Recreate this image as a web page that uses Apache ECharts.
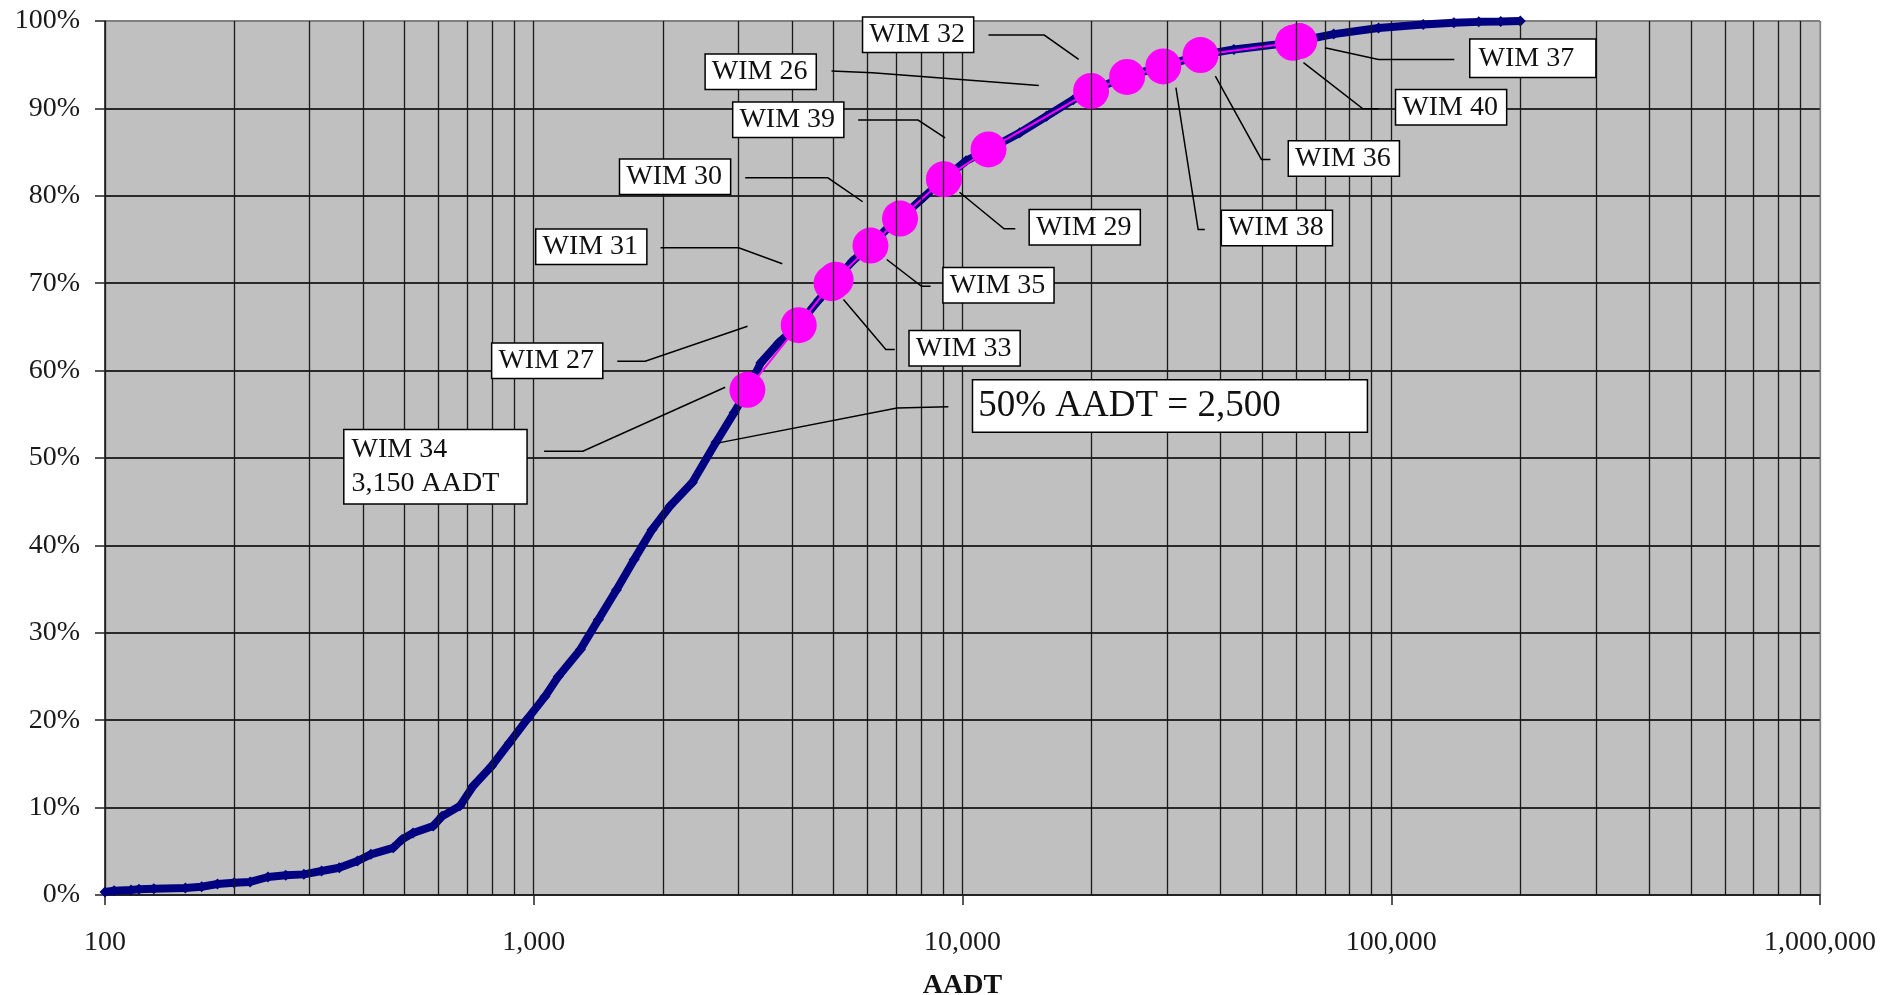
<!DOCTYPE html>
<html><head><meta charset="utf-8">
<script src="https://cdn.jsdelivr.net/npm/echarts@6/dist/echarts.min.js"></script>
<style>html,body{margin:0;padding:0;background:#fff}#c{width:1881px;height:995px}</style>
</head><body><div id="c"></div>
<script>
// ---- data ----
const aadt = [100,105,115,120,130,154,168,183,200,218,240,264,291,320,352,388,417,470,493,523,583,611,673,723,796,877,965,1062,1141,1285,1415,1559,1715,1888,2079,2344,2661,2934,3152,3386,3729,4153,4627,5054,5536,6095,6625,7153,8024,9048,10195,11500,13595,15697,18125,19950,24160,29420,35880,42950,57940,73430,93400,118700,140000,160000,180000,200000];
const cumPct = [0.34,0.5,0.57,0.65,0.72,0.8,0.95,1.26,1.4,1.5,2.06,2.25,2.36,2.74,3.12,3.89,4.65,5.4,6.36,7.1,7.9,9.0,10.2,12.5,14.7,17.4,20.1,22.7,25.0,28.1,31.5,34.9,38.4,41.8,44.5,47.2,51.8,55.2,57.8,60.9,63.2,65.3,68.1,70.4,72.5,74.3,76.1,77.4,79.6,81.9,84.0,85.3,87.2,89.1,91.0,92.0,93.7,94.8,96.1,96.75,97.5,98.5,99.2,99.6,99.8,99.9,99.95,100];
const wimNames = ['WIM 34','WIM 27','WIM 31','WIM 33','WIM 35','WIM 30','WIM 29','WIM 39','WIM 26','WIM 32','WIM 38','WIM 36','WIM 40','WIM 37'];
const wimAADT = [3150,4150,4950,5060,6100,7150,9050,11500,19950,24200,29400,35900,59000,61000];
const wimPct = [57.8,65.2,70.0,70.4,74.3,77.4,81.9,85.3,92.0,93.6,94.8,96.1,97.5,97.7];
const xTickLabels = ['100','1,000','10,000','100,000','1,000,000'];
const yTickLabels = ['0%','10%','20%','30%','40%','50%','60%','70%','80%','90%','100%'];
const xName = 'AADT';
const noteText = '50% AADT = 2,500';

// ---- annotation layout (data coordinates) ----
const labelBoxes = [
  {text:'WIM 32', at:[7879,98.43]},
  {text:'WIM 26', at:[3383,94.2]},
  {text:'WIM 39', at:[3923,88.7]},
  {text:'WIM 30', at:[2136,82.18]},
  {text:'WIM 31', at:[1362,74.18]},
  {text:'WIM 27', at:[1075,61.13]},
  {text:'WIM 34\n3,150 AADT', at:[362,49.0], kind:'big'},
  {text:noteText, at:[30470,55.96], kind:'note'},
  {text:'WIM 33', at:[10113,62.56]},
  {text:'WIM 35', at:[12130,69.76]},
  {text:'WIM 29', at:[19280,76.39]},
  {text:'WIM 38', at:[54120,76.33]},
  {text:'WIM 36', at:[77530,84.28]},
  {text:'WIM 40', at:[137900,90.12]},
  {text:'WIM 37', at:[213900,95.75], kind:'wide'}
];
const leaders = [
  [[11497,98.39],[15511,98.39],[18660,95.6]],
  [[4948,94.27],[6166,94.08],[15070,92.63]],
  [[5710,88.66],[7875,88.66],[9108,86.64]],
  [[3113,82.06],[4853,82.06],[5851,79.32]],
  [[1976,74.05],[3006,74.05],[3799,72.22]],
  [[1566,61.07],[1820,61.07],[3152,65.08]],
  [[1057,50.77],[1302,50.77],[2796,58.09]],
  [[9267,55.85],[7036,55.73],[2698,51.73]],
  [[5277,68.13],[6625,62.41],[6950,62.41]],
  [[6658,72.71],[8024,69.65],[8423,69.65]],
  [[9840,80.41],[12503,76.22],[13278,76.22]],
  [[31460,92.37],[35450,76.14],[36750,76.14]],
  [[38880,93.69],[49800,84.16],[52250,84.16]],
  [[62420,95.23],[85870,89.96],[93380,89.96]],
  [[70010,96.94],[93380,95.6],[140300,95.6]]
];

const serif = "'Liberation Serif','Times New Roman',serif";
const minorGrid = [];
[100,1000,10000,100000].forEach(d=>{for(let k=2;k<=9;k++) minorGrid.push(d*k);});

function boxLabel(kind){
  if(kind==='note') return {fontSize:37, lineHeight:44, padding:[5,86,2,5]};
  if(kind==='big') return {fontSize:28, lineHeight:34, padding:[5,27,0,7], align:'left'};
  if(kind==='wide') return {fontSize:28, lineHeight:24, padding:[13,21,0,8]};
  return {fontSize:28, lineHeight:22, padding:[12,8,0,6]};
}

const chart = echarts.init(document.getElementById('c'), null, {renderer:'canvas'});
chart.setOption({
  animation:false,
  backgroundColor:'#fff',
  grid:{left:105, right:61, top:21, bottom:100, containLabel:false, outerBoundsMode:'none',
        show:true, backgroundColor:'#C0C0C0', borderColor:'#808080', borderWidth:1},
  xAxis:{
    type:'log', logBase:10, min:100, max:1000000,
    name:xName, nameLocation:'middle', nameGap:77,
    nameTextStyle:{fontFamily:serif, fontSize:28, fontWeight:'bold', color:'#111'},
    axisLine:{show:true, onZero:false, lineStyle:{color:'#222', width:1.5}},
    axisTick:{show:true, length:10, lineStyle:{color:'#222', width:1.5}},
    minorTick:{show:false},
    splitLine:{show:true, lineStyle:{color:['#1a1a1a','#1a1a1a','#1a1a1a','#1a1a1a','#808080'], width:1.3}},
    axisLabel:{margin:34, fontFamily:serif, fontSize:28, color:'#1a1a1a',
      formatter:(v)=>xTickLabels[Math.round(Math.log10(v))-2]}
  },
  yAxis:{
    type:'value', min:0, max:100, interval:10,
    axisLine:{show:true, lineStyle:{color:'#222', width:1.5}},
    axisTick:{show:true, length:10, lineStyle:{color:'#222', width:1.5}},
    splitLine:{show:true, lineStyle:{color:['#2a2a2a','#2a2a2a','#2a2a2a','#2a2a2a','#2a2a2a','#2a2a2a','#2a2a2a','#2a2a2a','#2a2a2a','#2a2a2a','#808080'], width:2}},
    axisLabel:{margin:25, fontFamily:serif, fontSize:28, color:'#1a1a1a',
      formatter:(v)=>yTickLabels[Math.round(v/10)]}
  },
  series:[
    {type:'line', data:[], z:1, silent:true,
     markLine:{silent:true, symbol:'none', label:{show:false}, animation:false,
       lineStyle:{color:'#1a1a1a', width:1.3, type:'solid'},
       data:minorGrid.map(v=>({xAxis:v}))}},
    {type:'line', name:'AADT distribution', z:3,
     data:aadt.map((v,i)=>[v,cumPct[i]]),
     lineStyle:{color:'#000080', width:8}, itemStyle:{color:'#000080'},
     symbol:'diamond', symbolSize:11, showSymbol:true},
    {type:'line', name:'WIM sites', z:4,
     data:wimAADT.map((v,i)=>({value:[v,wimPct[i]], name:wimNames[i]})),
     lineStyle:{color:'#FF00FF', width:2}, itemStyle:{color:'#FF00FF'},
     symbol:'circle', symbolSize:36, showSymbol:true},
    {type:'lines', coordinateSystem:'cartesian2d', polyline:true, z:5, silent:true,
     lineStyle:{color:'#000', width:1.5, opacity:1},
     data:leaders.map(c=>({coords:c}))},
    {type:'scatter', z:6, silent:true, symbolSize:0, itemStyle:{opacity:1},
     data:labelBoxes.map(b=>({value:b.at, name:b.text, label:boxLabel(b.kind)})),
     label:{show:true, position:'inside', formatter:(p)=>p.name, color:'#111', opacity:1,
       fontFamily:serif, fontSize:28, backgroundColor:'#ffffff', borderColor:'#000', borderWidth:1.5}}
  ]
});
</script></body></html>
